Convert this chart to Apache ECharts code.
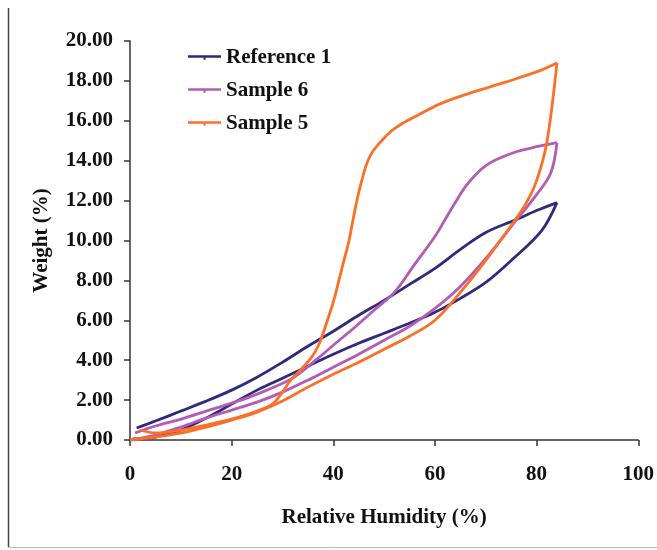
<!DOCTYPE html>
<html>
<head>
<meta charset="utf-8">
<script src="https://cdn.jsdelivr.net/npm/echarts@6/dist/echarts.min.js"></script>
<style>
  html, body { margin: 0; padding: 0; background: #ffffff; }
  #chart { width: 657px; height: 550px; }
</style>
</head>
<body>
<div id="chart"></div>
<script>
// Sorption (rising RH) and desorption (falling RH) branches, weight gain in %
const ref1SorpRH = [0.5, 5, 10, 15, 20, 25, 30, 35, 40, 45, 50, 55, 60, 65, 70, 75, 81, 84];
const ref1SorpW  = [0.05, 0.15, 0.5, 1.1, 1.8, 2.5, 3.1, 3.7, 4.3, 4.85, 5.35, 5.85, 6.4, 7.1, 7.9, 9.0, 10.5, 11.9];
const ref1DesRH  = [84, 80, 76, 70, 65, 60, 55, 50, 45, 40, 35, 30, 25, 20, 15, 10, 5, 1.3];
const ref1DesW   = [11.9, 11.5, 11.05, 10.4, 9.55, 8.6, 7.8, 7.0, 6.25, 5.45, 4.7, 3.9, 3.15, 2.5, 1.95, 1.45, 0.95, 0.6];

const s6SorpRH = [0, 5, 10, 15, 20, 25, 30, 35, 40, 45, 50, 55, 60, 65, 70, 75, 80, 82.8, 84];
const s6SorpW  = [0, 0.25, 0.65, 1.1, 1.5, 1.9, 2.4, 3.0, 3.65, 4.3, 5.0, 5.7, 6.6, 7.7, 9.1, 10.7, 12.3, 13.4, 14.9];
const s6DesRH  = [84, 80, 76, 72, 70, 68, 66, 64, 62, 60, 56, 52, 48, 44, 40, 37, 32, 25, 20, 15, 10, 5, 1];
const s6DesW   = [14.9, 14.7, 14.45, 14.05, 13.75, 13.3, 12.7, 11.9, 11.05, 10.2, 8.8, 7.4, 6.5, 5.6, 4.75, 4.1, 3.1, 2.3, 1.85, 1.45, 1.05, 0.7, 0.35];

const s5SorpRH = [0, 5, 10, 15, 20, 25, 30, 35, 40, 45, 50, 55, 60, 65, 70, 75, 78, 80, 82, 84];
const s5SorpW  = [0, 0.15, 0.35, 0.65, 1.0, 1.4, 1.95, 2.65, 3.3, 3.9, 4.55, 5.2, 6.0, 7.4, 9.0, 10.75, 11.9, 13.0, 14.9, 18.9];
const s5DesRH  = [84, 80, 74, 67, 61, 56.8, 53.5, 51.5, 49.5, 47.6, 46.5, 45.6, 45, 44.4, 43.7, 43.1, 42.1, 41.1, 40.1, 39.1, 38.2, 37, 35.6, 33.5, 31.6, 30, 28, 25, 20, 15, 10, 5, 2];
const s5DesW   = [18.9, 18.45, 17.95, 17.4, 16.85, 16.3, 15.85, 15.5, 15.0, 14.4, 13.8, 13.0, 12.4, 11.7, 10.8, 10.0, 9.0, 8.0, 7.0, 6.2, 5.5, 4.7, 4.1, 3.5, 3.0, 2.4, 1.8, 1.45, 1.05, 0.75, 0.5, 0.35, 0.5];

const xTicks = [0, 20, 40, 60, 80, 100];
const yTicks = [0, 2, 4, 6, 8, 10, 12, 14, 16, 18, 20];

const seriesNames = ['Reference 1', 'Sample 6', 'Sample 5'];
const seriesColors = ['#2e2a7c', '#b35bb6', '#fb7026'];

const pairs = (xs, ys) => xs.map((x, i) => [x, ys[i]]);

const branches = [
  [ref1SorpRH, ref1SorpW, ref1DesRH, ref1DesW],
  [s6SorpRH, s6SorpW, s6DesRH, s6DesW],
  [s5SorpRH, s5SorpW, s5DesRH, s5DesW]
];

const serif = '"Liberation Serif", "Times New Roman", serif';
const series = [];
branches.forEach((b, k) => {
  [[b[0], b[1]], [b[2], b[3]]].forEach(([xs, ys]) => {
    series.push({
      name: seriesNames[k],
      type: 'line',
      data: pairs(xs, ys),
      smooth: 0.35,
      symbol: 'none',
      color: seriesColors[k],
      lineStyle: { width: 2.8, color: seriesColors[k] },
      animation: false
    });
  });
});

// legend swatch: a short line with a small tick under its middle
const legendIcon = 'path://M0,5 L33,5 L33,7.5 L17.5,7.5 L17.5,9.5 L15.5,9.5 L15.5,7.5 L0,7.5 Z';

const chart = echarts.init(document.getElementById('chart'), null, { renderer: 'canvas' });
chart.setOption({
  backgroundColor: '#ffffff',
  animation: false,
  grid: { left: 130, right: 16, top: 41, bottom: 110, containLabel: false },
  legend: {
    data: seriesNames,
    orient: 'vertical',
    left: 183,
    top: 42,
    itemWidth: 33,
    itemHeight: 12,
    itemGap: 12,
    icon: legendIcon,
    textStyle: { fontFamily: serif, fontWeight: 'bold', fontSize: 21, color: '#111', padding: [0, 0, 0, 0] }
  },
  xAxis: {
    type: 'value',
    min: xTicks[0],
    max: xTicks[xTicks.length - 1],
    interval: 20,
    name: 'Relative Humidity (%)',
    nameLocation: 'middle',
    nameGap: 67,
    nameTextStyle: { fontFamily: serif, fontWeight: 'bold', fontSize: 21, color: '#111' },
    axisLine: { show: true, lineStyle: { color: '#333', width: 1.5 } },
    axisTick: { show: true, inside: false, length: 6, lineStyle: { color: '#333', width: 1.5 } },
    axisLabel: { margin: 24, fontFamily: serif, fontWeight: 'bold', fontSize: 21, color: '#111' },
    splitLine: { show: false }
  },
  yAxis: {
    type: 'value',
    min: yTicks[0],
    max: yTicks[yTicks.length - 1],
    interval: 2,
    name: 'Weight (%)',
    nameLocation: 'middle',
    nameGap: 78,
    nameRotate: 90,
    nameTextStyle: { fontFamily: serif, fontWeight: 'bold', fontSize: 21, color: '#111' },
    axisLine: { show: true, lineStyle: { color: '#333', width: 1.5 } },
    axisTick: { show: true, inside: false, length: 6, lineStyle: { color: '#333', width: 1.5 } },
    axisLabel: {
      margin: 17,
      fontFamily: serif, fontWeight: 'bold', fontSize: 21, color: '#111',
      formatter: v => v.toFixed(2)
    },
    splitLine: { show: false }
  },
  graphic: [
    { type: 'line', shape: { x1: 8.5, y1: 8, x2: 8.5, y2: 547 }, style: { stroke: '#444', lineWidth: 1.5 }, silent: true },
    { type: 'line', shape: { x1: 8, y1: 547.5, x2: 657, y2: 547.5 }, style: { stroke: '#bbb', lineWidth: 1 }, silent: true }
  ],
  series: series
});
</script>
</body>
</html>
